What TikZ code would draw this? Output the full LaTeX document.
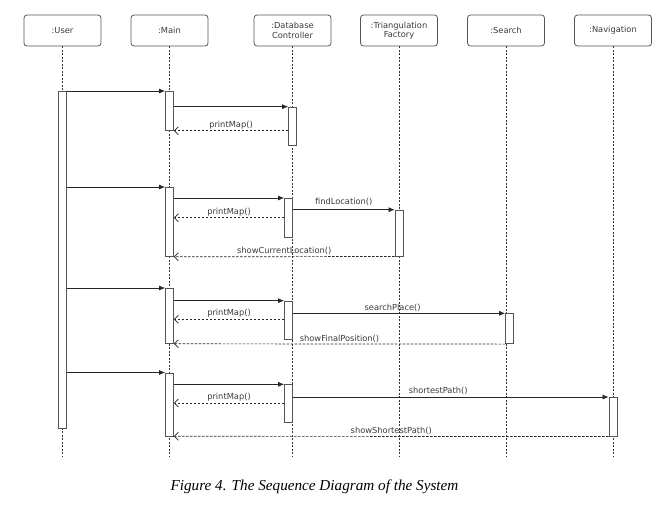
\documentclass[tikz,border=0pt]{standalone}
\usepackage{fontspec}
\setmainfont{DejaVu Sans}
\newfontfamily\capfont{Liberation Serif}
\usetikzlibrary{arrows.meta}
\definecolor{umlgray}{HTML}{555555}
\definecolor{umltext}{HTML}{3A3A3A}
\tikzset{
  obj/.style={draw=umlgray, rounded corners=3pt, minimum width=77pt, minimum height=31pt,
    align=center, inner sep=1pt, text=umltext, font=\fontsize{8.3}{9.5}\selectfont, line width=0.8pt},
  life/.style={dash pattern=on 2pt off 1.5pt, line width=0.6pt, draw=black!80},
  act/.style={draw=umlgray, fill=white, minimum width=8pt, inner sep=0pt, anchor=north, line width=0.8pt},
  call/.style={-{Latex[length=6pt,width=5pt]}, line width=0.7pt, draw=black!85},
  reply/.style={-{Straight Barb[length=4pt,width=8pt]}, dash pattern=on 2.5pt off 1.5pt, line width=0.7pt, draw=black!85},
  lbl/.style={above, inner sep=1.5pt, text=umltext, font=\fontsize{8.3}{9.5}\selectfont}
}
\begin{document}
\begin{tikzpicture}[x=1pt,y=-1pt]
\useasboundingbox (0,0) rectangle (671,509);
\node[obj] (user) at (62.5,30.5) {:User};
\node[obj] (main) at (169.5,30.5) {:Main};
\node[obj] (db) at (292.5,30.5) {:Database\\Controller};
\node[obj] (tri) at (399,30.5) {:Triangulation\\Factory};
\node[obj] (search) at (506,30.5) {:Search};
\node[obj] (nav) at (613,30.5) {:Navigation};
\foreach \o in {user,main,db,tri,search,nav}
  \draw[life] (\o.south) -- (\o.south |- 0,456);
\node[act, minimum height=337pt] (uA) at (62.5,91) {};
\node[act, minimum height=39pt] (mA1) at (169.5,91) {};
\node[act, minimum height=69pt] (mA2) at (169.5,187) {};
\node[act, minimum height=55pt] (mA3) at (169.5,288) {};
\node[act, minimum height=63pt] (mA4) at (169.5,372.5) {};
\node[act, minimum height=38pt] (dA1) at (292.5,106.7) {};
\node[act, minimum height=39pt] (dA2) at (288.5,198) {};
\node[act, minimum height=38pt] (dA3) at (288.5,300.7) {};
\node[act, minimum height=38pt] (dA4) at (288.5,384.3) {};
\node[act, minimum height=46pt] (tA) at (399,209.7) {};
\node[act, minimum height=30pt] (sA) at (509.5,313.3) {};
\node[act, minimum height=38.7pt] (nA) at (613,397) {};
\draw[call] (uA.east |- mA1.north) -- (mA1.north west);
\draw[call] (mA1.east |- dA1.north) -- (dA1.north west);
\draw[reply] (dA1.west |- mA1.south) -- (mA1.south east) node[lbl, midway]{printMap()};
\draw[call] (uA.east |- mA2.north) -- (mA2.north west);
\draw[call] (mA2.east |- dA2.north) -- (dA2.north west);
\draw[call] (dA2.east |- tA.north) -- (tA.north west) node[lbl, midway, yshift=2pt]{findLocation()};
\draw[reply] (dA2.west |- 0,217.7) -- (mA2.east |- 0,217.7) node[lbl, midway]{printMap()};
\draw[reply] (tA.south west) -- (mA2.south east) node[lbl, midway]{showCurrentLocation()};
\draw[call] (uA.east |- mA3.north) -- (mA3.north west);
\draw[call] (mA3.east |- dA3.north) -- (dA3.north west);
\draw[call] (dA3.east |- sA.north) -- (sA.north west) node[lbl, pos=0.47]{searchPlace()};
\draw[reply] (dA3.west |- 0,319.3) -- (mA3.east |- 0,319.3) node[lbl, midway]{printMap()};
\draw[reply] (sA.south west) -- (mA3.south east) node[lbl, midway]{showFinalPosition()};
\draw[call] (uA.east |- mA4.north) -- (mA4.north west);
\draw[call] (mA4.east |- dA4.north) -- (dA4.north west);
\draw[call] (dA4.east |- nA.north) -- (nA.north west) node[lbl, pos=0.46, yshift=1pt]{shortestPath()};
\draw[reply] (dA4.west |- 0,403) -- (mA4.east |- 0,403) node[lbl, midway]{printMap()};
\draw[reply] (nA.south west) -- (mA4.south east) node[lbl, midway]{showShortestPath()};
\node (cap) at (314.5,487) {\capfont\itshape\fontsize{15.2}{18}\selectfont Figure 4. The Sequence Diagram of the System};
\end{tikzpicture}
\end{document}
